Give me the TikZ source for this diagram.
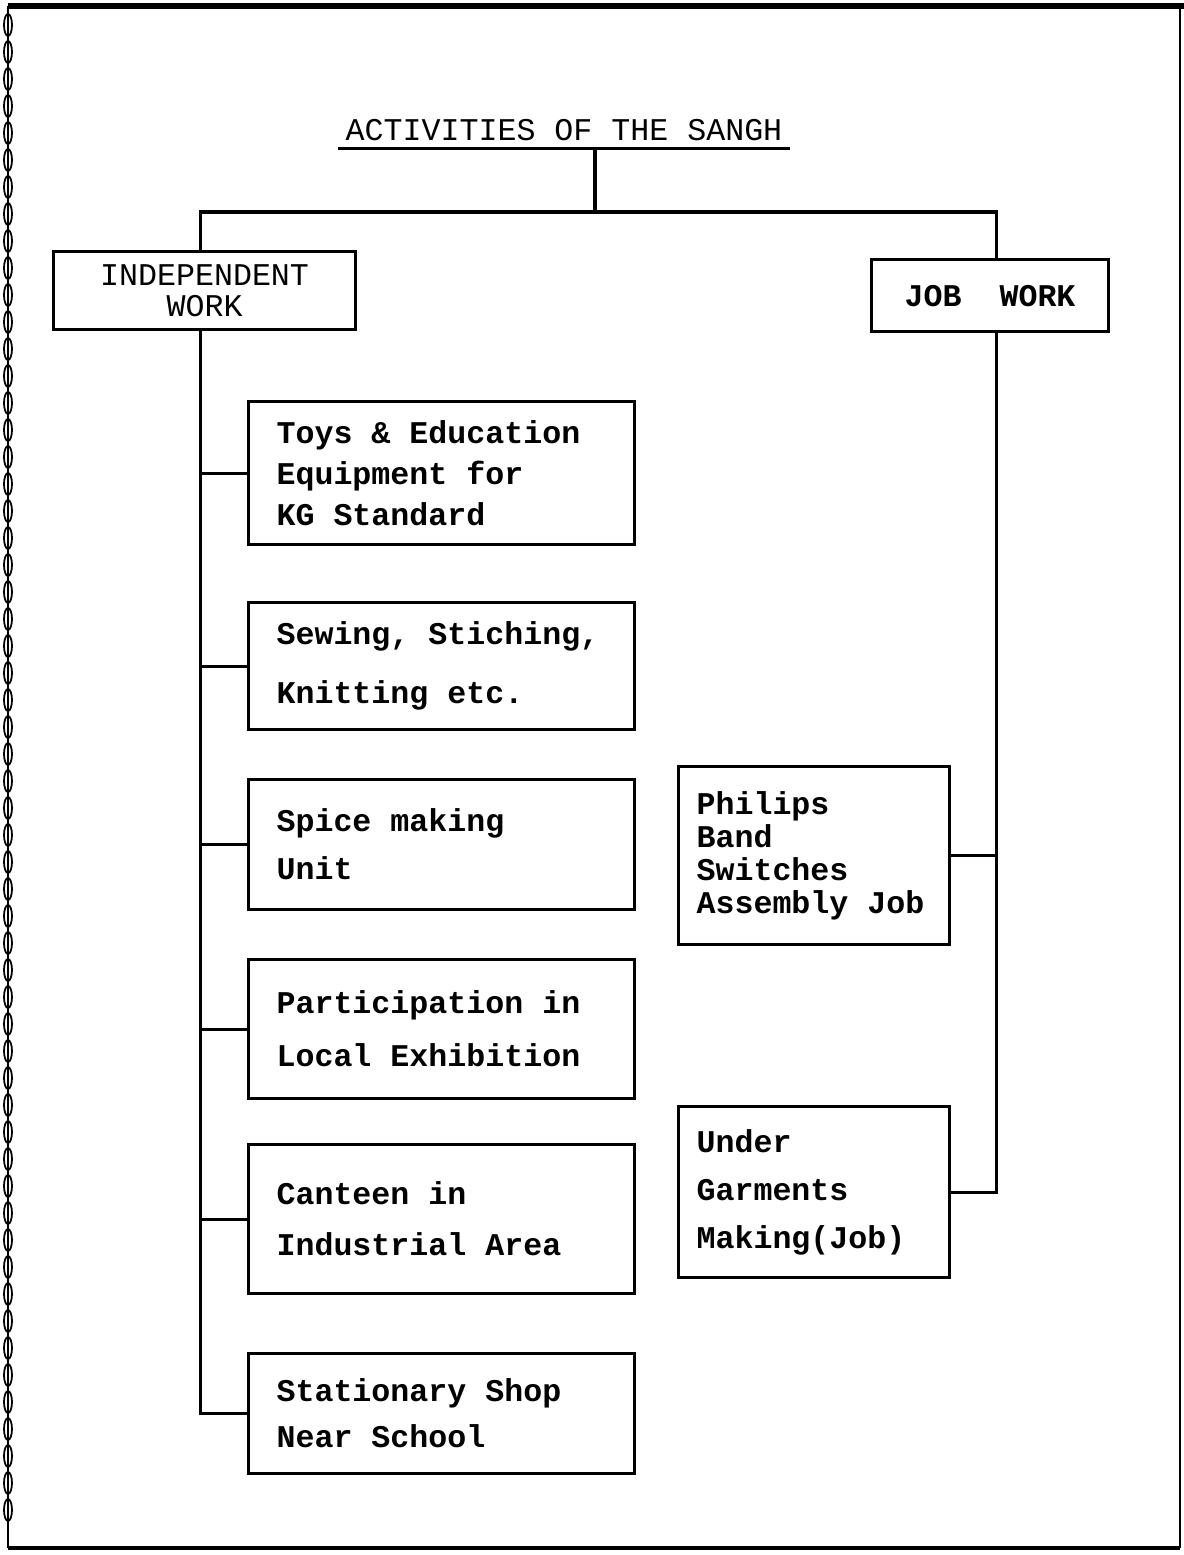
\documentclass[tikz,border=0pt]{standalone}
\usepackage{fontspec}
\setmonofont{Liberation Mono}[BoldFont={Liberation Mono Bold}]
\usepackage{tikz}
\usetikzlibrary{positioning}
\newcommand{\wordgap}{\spaceskip 0.6em\xspaceskip 0.6em\relax}

\begin{document}
\begin{tikzpicture}[
    lead/.style={font=\ttfamily\bfseries\fontsize{9}{#1}\selectfont},
    headbox/.style={draw, line width=0.9pt, anchor=north west, inner sep=0pt, align=center, font=\ttfamily\fontsize{9}{8.8}\selectfont},
    leftbox/.style={draw, line width=0.9pt, anchor=north west, inner xsep=0.28cm, inner ysep=0pt, text width=3.3cm, align=left, execute at begin node=\wordgap},
    rightbox/.style={draw, line width=0.9pt, anchor=north west, inner xsep=0.18cm, inner ysep=0pt, text width=2.35cm, align=left, execute at begin node=\wordgap},
    link/.style={line width=0.9pt}
]
\useasboundingbox (0,0) rectangle (11.84,-15.55);

% Page frame with the chain binding on the left
\draw[line width=1.6pt] (0.08,-0.06) -- (11.84,-0.06);
\draw[line width=0.6pt] (11.80,-0.06) -- (11.80,-15.48);
\draw[line width=1pt] (0.08,-15.48) -- (11.80,-15.48);
\draw[line width=0.5pt] (0.08,-0.06) -- (0.08,-15.48);
\foreach \y in {0.25,0.52,...,15.3}
    \draw[line width=0.5pt] (0.08,-\y) ellipse (0.04 and 0.11);

% Title
\node[inner xsep=0.07cm, inner ysep=2pt, font=\ttfamily\fontsize{9}{11}\selectfont] (title) at (5.64,-1.30) {ACTIVITIES OF THE SANGH};
\draw[link] (title.south west) -- (title.south east);
\coordinate (hub) at (5.95,-2.12);

% Two main heads
\node[headbox, minimum width=3.02cm, minimum height=0.78cm] (indep) at (0.52,-2.50) {INDEPENDENT\\WORK};
\node[headbox, lead=11, minimum width=2.37cm, minimum height=0.72cm] (job) at (8.70,-2.58) {JOB\ \ WORK};
\coordinate (ltrunk) at ([xshift=-0.04cm]indep.south);
\coordinate (rtrunk) at ([xshift=0.06cm]job.south);

% Independent work
\node[leftbox, lead=11.7, minimum height=1.43cm] (toys) at (2.47,-4.00) {Toys \& Education\\Equipment for\\KG Standard};
\node[leftbox, lead=16.8, minimum height=1.27cm] (sewing) at (2.47,-6.01) {Sewing, Stiching,\\Knitting etc.};
\node[leftbox, lead=13.7, minimum height=1.30cm] (spice) at (2.47,-7.78) {Spice making\\Unit};
\node[leftbox, lead=15.1, minimum height=1.39cm] (expo) at (2.47,-9.58) {Participation in\\Local Exhibition};
\node[leftbox, lead=14.5, minimum height=1.49cm] (canteen) at (2.47,-11.43) {Canteen in\\Industrial Area};
\node[leftbox, lead=13.1, minimum height=1.20cm] (shop) at (2.47,-13.52) {Stationary Shop\\Near School};

% Job work
\node[rightbox, lead=9.4, minimum height=1.78cm] (philips) at (6.77,-7.65) {Philips\\Band\\Switches\\Assembly Job};
\node[rightbox, lead=13.7, minimum height=1.71cm] (under) at (6.77,-11.05) {Under\\Garments\\Making(Job)};

% Connectors
\draw[link] (hub) -- (hub |- title.south);
\draw[link] (ltrunk |- indep.north) |- (hub) -| (rtrunk |- job.north);
\draw[link] (ltrunk) |- (shop.west);
\foreach \n in {toys, sewing, spice, expo, canteen}
    \draw[link] (ltrunk |- \n.west) -- (\n.west);
\draw[link] (rtrunk) |- (under.east);
\draw[link] (rtrunk |- philips.east) -- (philips.east);
\end{tikzpicture}
\end{document}
